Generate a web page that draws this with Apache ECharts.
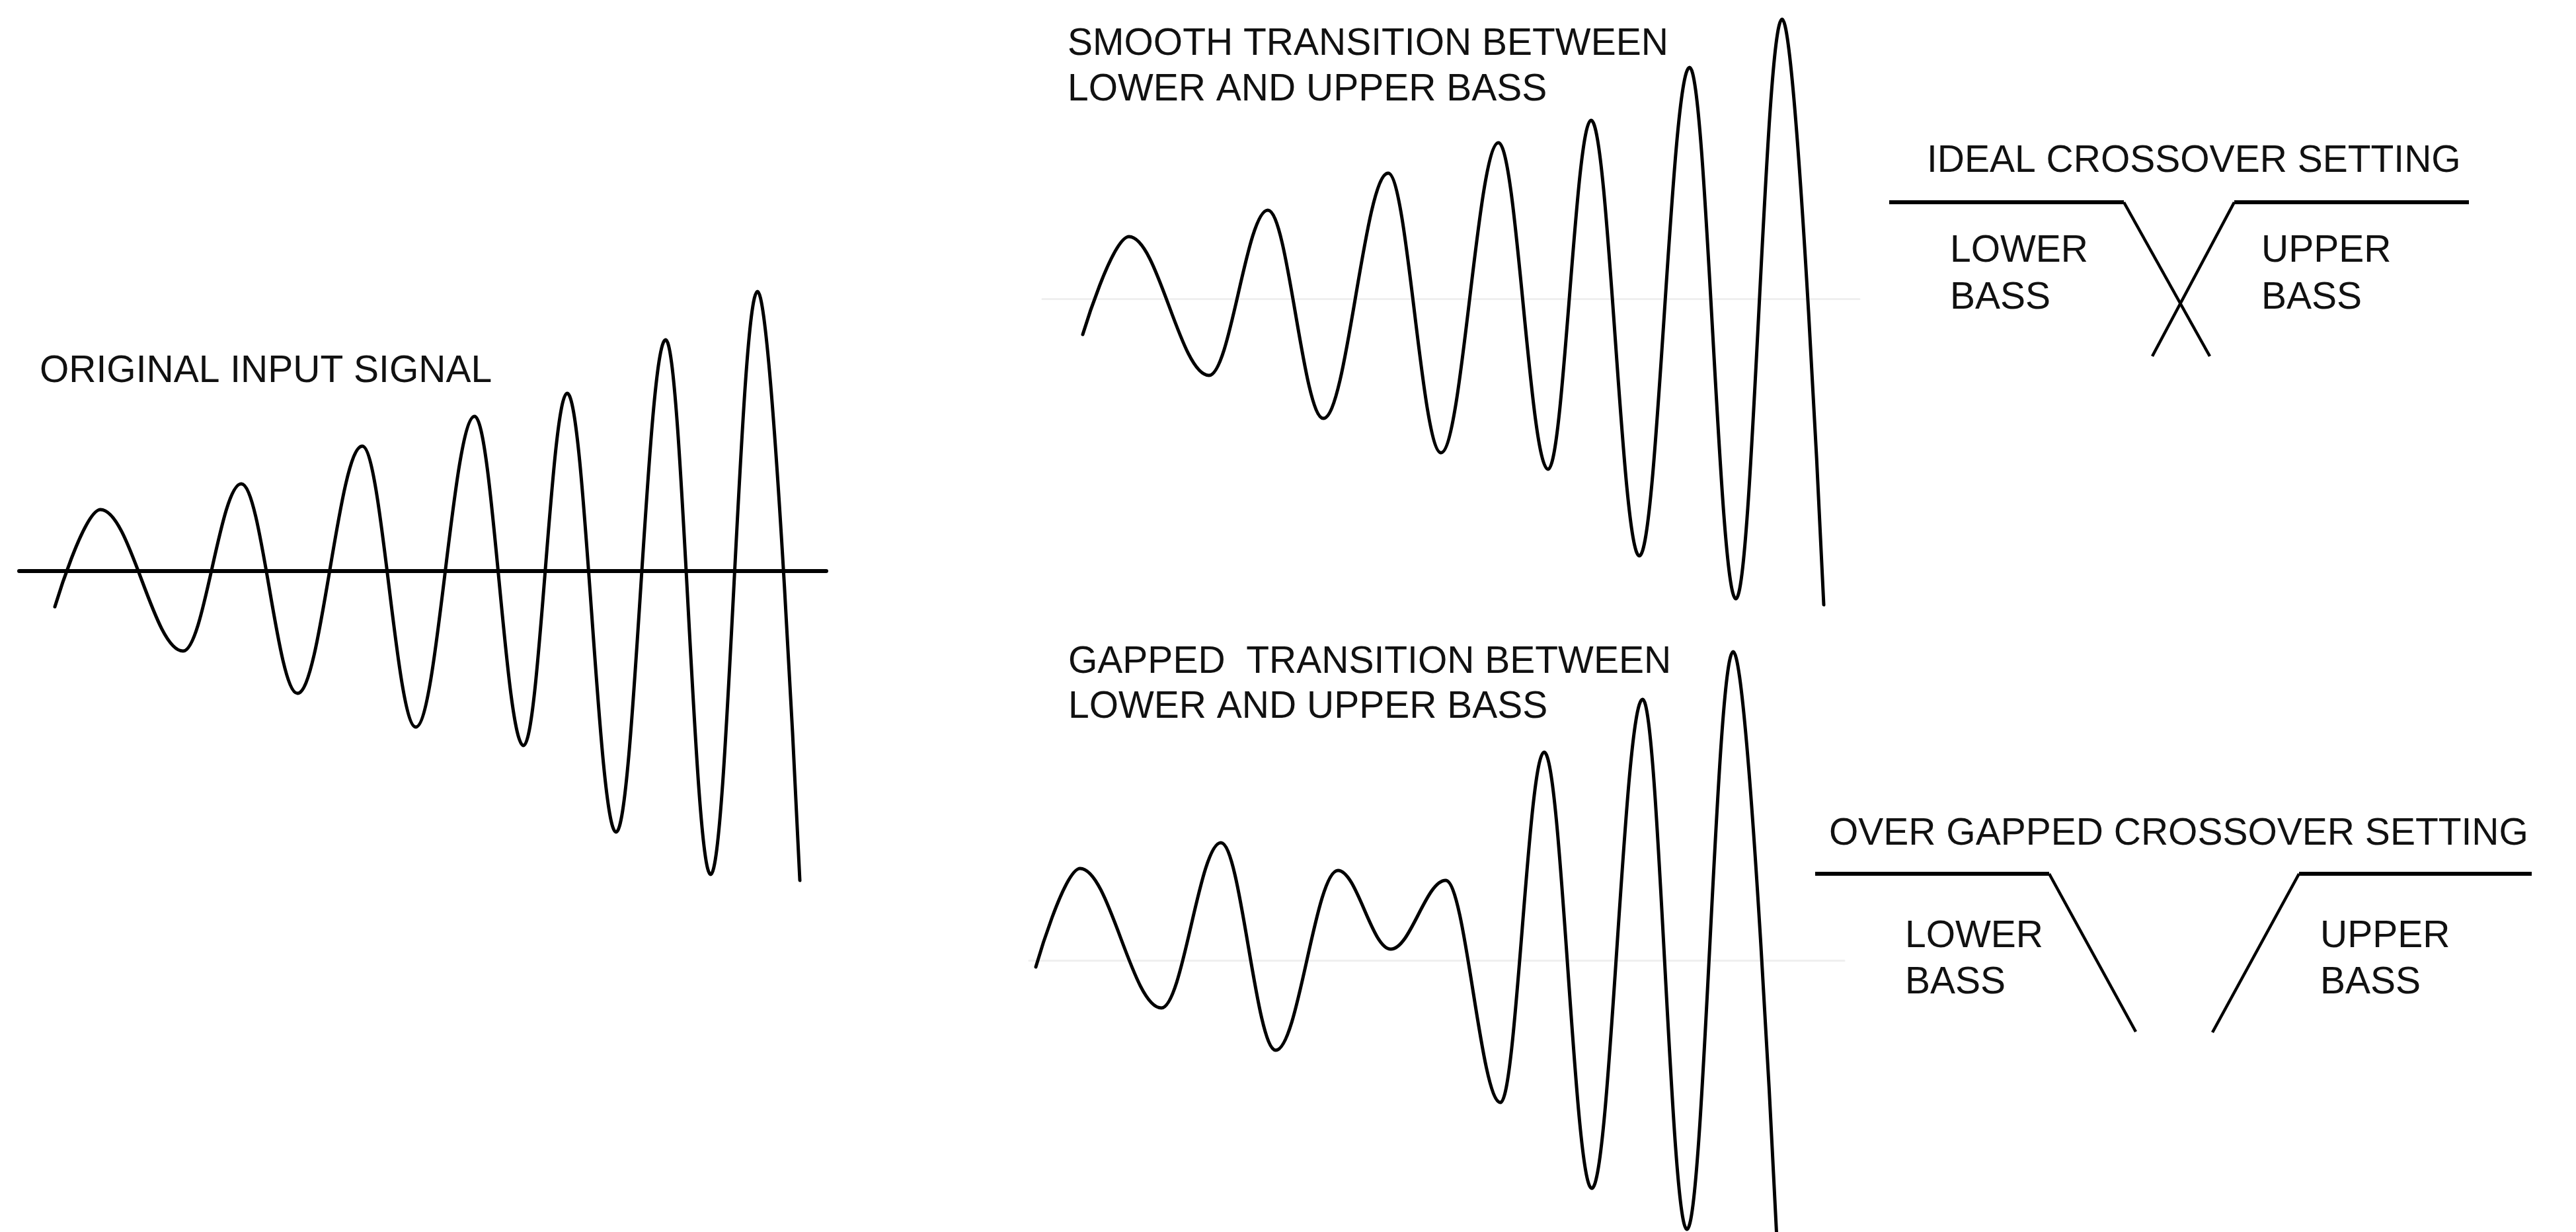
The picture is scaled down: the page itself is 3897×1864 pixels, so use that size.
<!DOCTYPE html>
<html>
<head>
<meta charset="utf-8">
<script src="https://cdn.jsdelivr.net/npm/echarts@6/dist/echarts.min.js"></script>
<style>
html,body{margin:0;padding:0;background:#ffffff;}
#chart{width:3897px;height:1864px;}
</style>
</head>
<body>
<div id="chart"></div>
<script>
// ---- DATA: waveform extrema, [time, amplitude] ----
const originalSignal = [
  [10.8,-10.8],[24.6,18.6],[49.6,-24.2],[67.2,26.4],[84.2,-37.0],[103.8,37.8],
  [120.0,-47.2],[137.8,46.8],[152.6,-52.8],[165.8,53.8],[180.6,-79.0],[195.6,70.0],
  [209.2,-91.8],[223.4,84.6],[236.2,-93.6]
];
const smoothTransition = [
  [12.2,-10.8],[26.2,18.8],[50.4,-23.2],[68.2,26.8],[85.0,-36.2],[104.6,38.0],
  [120.6,-46.6],[138.0,47.2],[153.0,-51.6],[166.0,54.0],[180.6,-77.8],[195.8,70.0],
  [209.8,-90.8],[223.8,84.6],[236.4,-92.6]
];
const gappedTransition = [
  [2.0,-2.0],[15.4,27.8],[40.0,-14.4],[58.0,35.6],[74.6,-27.2],[93.4,27.2],
  [109.4,3.4],[126.0,24.2],[142.6,-43.0],[155.8,63.0],[170.2,-69.0],[185.6,79.0],
  [199.0,-81.4],[213.0,93.4],[226.2,-84.4]
];
// crossover response sketches [frequency, level]
const idealLower = [[0,0],[71,0],[97,-46.6]];
const idealUpper = [[79.6,-46.6],[104.4,0],[175.4,0]];
const gappedLower = [[0,0],[70.8,0],[97,-47.8]];
const gappedUpper = [[120.2,-48],[146.4,0],[216.8,0]];

// ---- TEXT ----
const originalTitle = 'ORIGINAL INPUT SIGNAL';
const smoothTitle = ['SMOOTH TRANSITION BETWEEN', 'LOWER AND UPPER BASS'];
const gappedTitle = ['GAPPED  TRANSITION BETWEEN', 'LOWER AND UPPER BASS'];
const crossoverTitles = ['IDEAL CROSSOVER SETTING', 'OVER GAPPED CROSSOVER SETTING'];
const bandLabels = [['LOWER', 'BASS'], ['UPPER', 'BASS']];

const FONT = '57px "Liberation Sans", Arial, Helvetica, sans-serif';
const INK = '#111111';

const chart = echarts.init(document.getElementById('chart'), null, {renderer: 'canvas'});

function hiddenAxis(min, max, gridIndex) {
  return {type: 'value', gridIndex, min, max, show: false};
}
function waveXAxis(max, gridIndex, color, width) {
  return {
    type: 'value', gridIndex, min: 0, max,
    axisLabel: {show: false}, axisTick: {show: false}, splitLine: {show: false},
    axisLine: {show: true, onZero: true, lineStyle: {color, width}}
  };
}
function waveSeries(data, idx) {
  return {
    type: 'line', xAxisIndex: idx, yAxisIndex: idx, data,
    symbol: 'none', smooth: 0.36, smoothMonotone: 'x', clip: false,
    lineStyle: {color: '#000', width: 5, cap: 'round', join: 'round'},
    silent: true, z: 5
  };
}
function segSeries(data, idx, width) {
  return {
    type: 'line', xAxisIndex: idx, yAxisIndex: idx, data,
    symbol: 'none', clip: false,
    lineStyle: {color: '#000', width, cap: 'butt', join: 'miter'},
    silent: true, z: 5
  };
}
function txt(text, x, y) {
  return {type: 'text', silent: true, style: {text, x, y, font: FONT, fill: INK, align: 'left', verticalAlign: 'middle'}};
}

const option = {
  backgroundColor: '#ffffff',
  animation: false,
  grid: [
    {left: 29, top: 364, width: 1221, height: 1000},
    {left: 1577, top: 2, width: 1236, height: 920},
    {left: 1557, top: 953, width: 1233, height: 911},
    {left: 2858, top: 306, width: 877, height: 233},
    {left: 2746, top: 1322, width: 1084, height: 240}
  ],
  xAxis: [
    waveXAxis(244.2, 0, '#000000', 6),
    waveXAxis(247.2, 1, '#efefef', 3),
    waveXAxis(246.6, 2, '#efefef', 3),
    hiddenAxis(0, 175.4, 3),
    hiddenAxis(0, 216.8, 4)
  ],
  yAxis: [
    hiddenAxis(-100, 100, 0),
    hiddenAxis(-94, 90, 1),
    hiddenAxis(-82.2, 100, 2),
    hiddenAxis(-46.6, 0, 3),
    hiddenAxis(-48, 0, 4)
  ],
  series: [
    waveSeries(originalSignal, 0),
    waveSeries(smoothTransition, 1),
    waveSeries(gappedTransition, 2),
    segSeries(idealLower.slice(0, 2), 3, 6),
    segSeries(idealLower.slice(1), 3, 4.5),
    segSeries(idealUpper.slice(0, 2), 3, 4.5),
    segSeries(idealUpper.slice(1), 3, 6),
    segSeries(gappedLower.slice(0, 2), 4, 6),
    segSeries(gappedLower.slice(1), 4, 4.5),
    segSeries(gappedUpper.slice(0, 2), 4, 4.5),
    segSeries(gappedUpper.slice(1), 4, 6)
  ],
  graphic: [
    txt(originalTitle, 60, 562),
    txt(smoothTitle[0], 1615, 67),
    txt(smoothTitle[1], 1615, 136),
    txt(gappedTitle[0], 1616, 1002),
    txt(gappedTitle[1], 1616, 1070),
    txt(crossoverTitles[0], 2915, 244),
    txt(bandLabels[0][0], 2950, 380),
    txt(bandLabels[0][1], 2950, 451),
    txt(bandLabels[1][0], 3421, 380),
    txt(bandLabels[1][1], 3421, 451),
    txt(crossoverTitles[1], 2767, 1262),
    txt(bandLabels[0][0], 2882, 1417),
    txt(bandLabels[0][1], 2882, 1487),
    txt(bandLabels[1][0], 3510, 1417),
    txt(bandLabels[1][1], 3510, 1487)
  ]
};
chart.setOption(option);
</script>
</body>
</html>
